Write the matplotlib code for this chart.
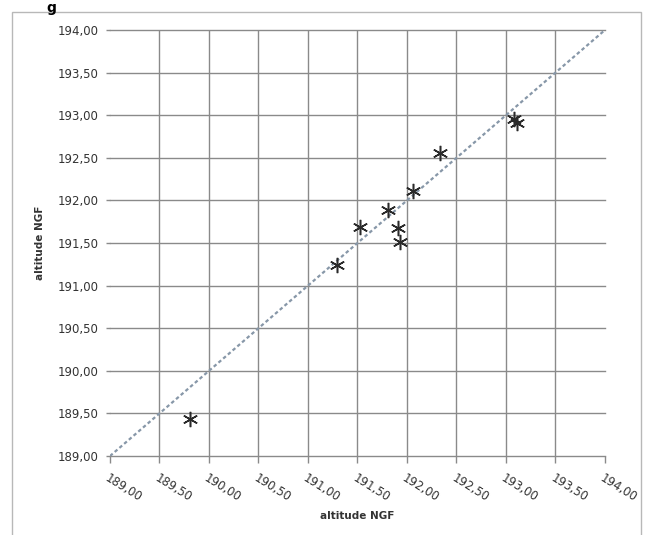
"""
Altitude NGF comparison scatter with 1:1 reference line.
"""

import matplotlib
matplotlib.use("Agg")
import matplotlib.pyplot as plt
import numpy as np
from matplotlib.patches import Rectangle


# altitude NGF, measured (x) vs. reference (y)
ALT_X = [189.81, 191.29, 191.53, 191.81, 191.91, 191.93, 192.06, 192.33, 193.08, 193.11]
ALT_Y = [189.44, 191.24, 191.69, 191.89, 191.68, 191.51, 192.11, 192.56, 192.95, 192.91]

# 1:1 line end points
REF_LINE = [189.0, 194.0]

TICKS = [189.0, 189.5, 190.0, 190.5, 191.0, 191.5, 192.0, 192.5, 193.0, 193.5, 194.0]
TICK_LABELS = ["189,00", "189,50", "190,00", "190,50", "191,00", "191,50",
               "192,00", "192,50", "193,00", "193,50", "194,00"]

AXIS_LABEL = "altitude NGF"
GRID_COLOR = "#8a8a8a"
TEXT_COLOR = "#333333"

W, H = 648, 535


def main():
    fig = plt.figure(figsize=(W / 100, H / 100), dpi=100)
    ax = fig.add_axes([110 / W, 1 - 456 / H, 495 / W, 426 / H])

    # chart area frame and the heading fragment above it
    fig.patches.append(Rectangle((12 / W, -0.01), (641 - 12) / W, 1 - 12 / H + 0.01,
                                 transform=fig.transFigure, fill=False,
                                 edgecolor="#b8b8b8", linewidth=1.0))
    fig.text(46 / W, 1 - 1 / H, "g", fontsize=10, fontweight="bold",
             color="black", va="top", ha="left")

    ax.plot(REF_LINE, REF_LINE, color="#8797a8", linewidth=1.6,
            linestyle=(0, (1.6, 1.2)), zorder=2)
    ax.plot(ALT_X, ALT_Y, linestyle="none", marker=(6, 2, 0), markersize=11,
            markeredgewidth=1.1, color="#2a2a2a", zorder=3)

    ax.set_xlim(TICKS[0], TICKS[-1])
    ax.set_ylim(TICKS[0], TICKS[-1])
    ax.set_xticks(TICKS)
    ax.set_yticks(TICKS)
    ax.set_yticklabels(TICK_LABELS, fontsize=8.5, color=TEXT_COLOR)
    ax.set_xticklabels(TICK_LABELS, fontsize=8.5, color=TEXT_COLOR,
                       rotation=-32, ha="left", va="top", rotation_mode="anchor")

    for side in ("left", "right", "top", "bottom"):
        ax.spines[side].set_visible(False)
    ax.tick_params(axis="y", length=3, width=1.0, color=GRID_COLOR, pad=5)
    ax.tick_params(axis="x", length=5, width=1.0, color=GRID_COLOR, pad=6)

    ax.grid(True, color=GRID_COLOR, linewidth=1.0, zorder=1)
    ax.set_axisbelow(True)
    xgrid = ax.get_xgridlines()
    xgrid[0].set_visible(False)
    xgrid[-1].set_visible(False)
    for gl in ax.get_ygridlines():
        gl.set_clip_on(False)

    ax.set_xlabel(AXIS_LABEL, fontsize=7.5, fontweight="bold", color=TEXT_COLOR)
    ax.xaxis.set_label_coords(0.5, -0.128)
    ax.set_ylabel(AXIS_LABEL, fontsize=7.5, fontweight="bold", color=TEXT_COLOR)
    ax.yaxis.set_label_coords(-0.131, 0.5)

    fig.savefig("out.png", dpi=100)
    plt.close(fig)


if __name__ == "__main__":
    main()
